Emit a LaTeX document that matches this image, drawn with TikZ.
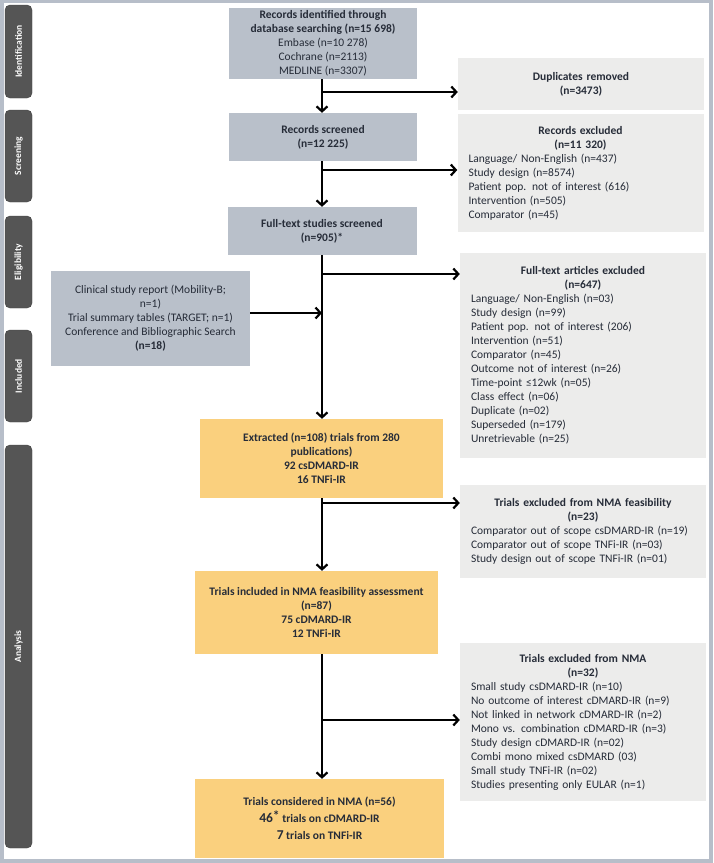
\documentclass[tikz,border=0pt]{standalone}
\usepackage{fontspec}
\setmainfont{Carlito}
\usepackage{xcolor}
\usetikzlibrary{arrows.meta,positioning}

\definecolor{framegray}{RGB}{183,190,201}
\definecolor{boxgray}{RGB}{185,192,202}
\definecolor{exclgray}{RGB}{236,236,235}
\definecolor{extorange}{RGB}{250,208,126}
\definecolor{phasegray}{RGB}{85,85,85}
\definecolor{txt}{RGB}{38,44,56}

\newcommand{\boxhead}[1]{\hfill\textbf{#1}\hfill\null}

\begin{document}
\begin{tikzpicture}[
    x=1pt, y=-1pt,
    every node/.style={font=\fontsize{11.5}{14}\selectfont, text=txt},
    main/.style={rectangle, fill=boxgray, align=center, inner sep=0pt},
    result/.style={rectangle, fill=extorange, align=center, inner sep=0pt, font=\bfseries\fontsize{11.5}{14}\selectfont},
    excl/.style={rectangle, fill=exclgray, text width=224pt, inner xsep=11pt, inner ysep=0pt, align=left},
    phase/.style={rectangle, rounded corners=5pt, fill=phasegray, draw=black!75, minimum height=27pt, inner sep=0pt, text=white, font=\bfseries\fontsize{9.5}{11}\selectfont, rotate=90},
    arrow/.style={-{Straight Barb[length=5pt,width=11pt]}, line width=2.2pt},
    link/.style={line width=2.2pt}
]
\useasboundingbox (0,0) rectangle (713,863);
\fill[framegray] (0,0) rectangle (713,863);
\fill[white] (4,3) rectangle (709,859);

% phase labels
\node[phase, minimum width=93pt] (pid) at (18.5,51.5) {Identification};
\node[phase, minimum width=92pt] (pscr) at (18.5,156) {Screening};
\node[phase, minimum width=92pt] (pel) at (18.5,262) {Eligibility};
\node[phase, minimum width=92pt] (pinc) at (18.5,376) {Included};
\node[phase, minimum width=403pt] (pana) at (18.5,646.5) {Analysis};

% main column
\node[main, minimum width=188pt, minimum height=71pt] (ident) at (323,43.5)
  {\textbf{Records identified through}\\\textbf{database searching (n=15 698)}\\Embase (n=10 278)\\Cochrane (n=2113)\\MEDLINE (n=3307)};
\node[main, minimum width=188pt, minimum height=48pt] (scr) at (323,137)
  {\textbf{Records screened}\\\textbf{(n=12 225)}};
\node[main, minimum width=189pt, minimum height=48pt] (ft) at (322,231)
  {\textbf{Full-text studies screened}\\\textbf{(n=905)*}};
\node[main, minimum width=199pt, minimum height=95pt] (clin) at (150.5,318.5)
  {Clinical study report (Mobility-B;\\n=1)\\Trial summary tables (TARGET; n=1)\\Conference and Bibliographic Search\\\textbf{(n=18)}};
\node[result, minimum width=243pt, minimum height=79pt] (ext) at (321.5,458.5)
  {Extracted (n=108) trials from 280\\publications)\\92 csDMARD-IR\\16 TNFi-IR};
\node[result, minimum width=243pt, minimum height=83pt] (feas) at (316.5,612.5)
  {Trials included in NMA feasibility assessment\\(n=87)\\75 cDMARD-IR\\12 TNFi-IR};
\node[result, minimum width=249pt, minimum height=79pt, font=\bfseries\fontsize{11.5}{17}\selectfont] (nma) at (319.5,818.5)
  {Trials considered in NMA (n=56)\\{\fontsize{13.5}{17}\selectfont 46\raisebox{2pt}{*}} trials on cDMARD-IR\\{\fontsize{13.5}{17}\selectfont 7} trials on TNFi-IR};

% exclusion boxes
\node[excl, minimum height=52pt] (dup) at (581,84)
  {\boxhead{Duplicates removed}\\\boxhead{(n=3473)}};
\node[excl, minimum height=118pt] (recx) at (580.5,173)
  {\boxhead{Records excluded}\\\boxhead{(n=11 320)}\\Language/ Non-English (n=437)\\Study design (n=8574)\\Patient pop. not of interest (616)\\Intervention (n=505)\\Comparator (n=45)};
\node[excl, minimum height=205pt] (ftx) at (583,355.5)
  {\boxhead{Full-text articles excluded}\\\boxhead{(n=647)}\\Language/ Non-English (n=03)\\Study design (n=99)\\Patient pop. not of interest (206)\\Intervention (n=51)\\Comparator (n=45)\\Outcome not of interest (n=26)\\Time-point ≤12wk (n=05)\\Class effect (n=06)\\Duplicate (n=02)\\Superseded (n=179)\\Unretrievable (n=25)};
\node[excl, minimum height=93pt] (feasx) at (583,531.5)
  {\boxhead{Trials excluded from NMA feasibility}\\\boxhead{(n=23)}\\Comparator out of scope csDMARD-IR (n=19)\\Comparator out of scope TNFi-IR (n=03)\\Study design out of scope TNFi-IR (n=01)};
\node[excl, minimum height=158pt] (nmax) at (583,722)
  {\boxhead{Trials excluded from NMA}\\\boxhead{(n=32)}\\Small study csDMARD-IR (n=10)\\No outcome of interest cDMARD-IR (n=9)\\Not linked in network cDMARD-IR (n=2)\\Mono vs. combination cDMARD-IR (n=3)\\Study design cDMARD-IR (n=02)\\Combi mono mixed csDMARD (03)\\Small study TNFi-IR (n=02)\\Studies presenting only EULAR (n=1)};

% connectors
\coordinate (spine) at (322,0);
\coordinate (b1) at (322,92);
\coordinate (b2) at (322,170);
\coordinate (b3) at (322,274);
\coordinate (b4) at (322,313);
\coordinate (b5) at (322,503);
\coordinate (b6) at (322,720);

\draw[arrow] (ident.south -| spine) -- (scr.north -| spine);
\draw[arrow] (scr.south -| spine) -- (ft.north -| spine);
\draw[arrow] (ft.south -| spine) -- (ext.north -| spine);
\draw[arrow] (ext.south -| spine) -- (feas.north -| spine);
\draw[arrow] (feas.south -| spine) -- (nma.north -| spine);

\draw[arrow] (b1) -- (b1 -| dup.west);
\draw[arrow] (b2) -- (b2 -| recx.west);
\draw[arrow] (b3) -- (b3 -| ftx.west);
\draw[arrow] (b4 -| clin.east) -- (b4);
\draw[arrow] (b5) -- (b5 -| feasx.west);
\draw[arrow] (b6) -- (b6 -| nmax.west);

\end{tikzpicture}
\end{document}
